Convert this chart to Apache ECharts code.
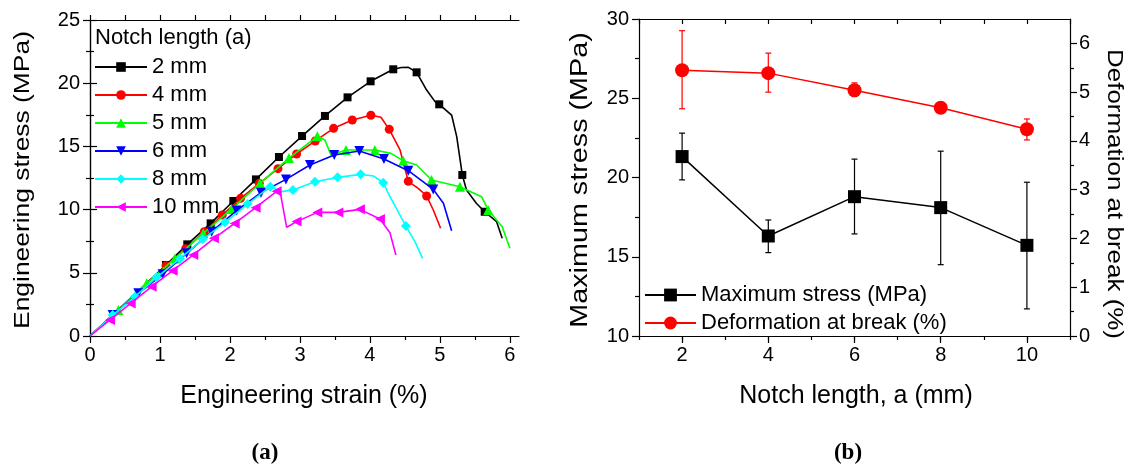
<!DOCTYPE html>
<html><head><meta charset="utf-8">
<script src="https://cdn.jsdelivr.net/npm/echarts@6/dist/echarts.min.js"></script>
<style>html,body{margin:0;padding:0;background:#fff}#c{width:1131px;height:468px}</style>
</head><body><div id="c"></div>
<script>
// ---------- Panel (a): engineering stress-strain curves ----------
// each point: [strain (%), stress (MPa), marker shown (1) or not (0)]
const curve2mm = [[0,0,0],[1.086,5.62,1],[1.39,7.25,1],[1.724,8.91,1],[2.048,10.68,1],[2.371,12.39,1],[2.70,14.16,1],[3.03,15.82,1],[3.357,17.41,1],[3.68,18.88,1],[4.01,20.15,1],[4.333,21.10,1],[4.45,21.24,0],[4.55,21.25,0],[4.667,20.86,1],[4.81,19.46,0],[4.93,18.54,0],[4.99,18.33,1],[5.167,17.48,0],[5.24,15.77,0],[5.32,12.74,1],[5.38,11.55,0],[5.52,10.5,0],[5.64,9.83,1],[5.81,9.04,0],[5.89,7.73,0]];
const curve4mm = [[0,0,0],[1.086,5.56,1],[1.367,6.91,1],[1.633,8.25,1],[1.89,9.57,1],[2.152,10.89,1],[2.419,12.08,1],[2.686,13.24,1],[2.952,14.40,1],[3.219,15.43,1],[3.481,16.43,1],[3.748,17.09,1],[4.014,17.46,1],[4.157,17.30,0],[4.276,16.35,1],[4.43,14.72,0],[4.548,12.24,1],[4.69,11.68,0],[4.81,11.08,1],[4.905,9.97,0],[5.01,8.52,0]];
const curve5mm = [[0,0,0],[0.405,2.06,1],[0.81,4.17,1],[1.214,6.14,1],[1.619,8.12,1],[2.024,10.05,1],[2.429,12.08,1],[2.843,14.08,1],[3.248,15.80,1],[3.357,15.5,0],[3.443,14.32,0],[3.657,14.72,1],[4.07,14.72,1],[4.30,14.45,0],[4.476,13.87,1],[4.667,13.53,0],[4.88,12.34,1],[5.286,11.81,1],[5.595,11.02,0],[5.69,9.97,1],[5.89,8.65,0],[6.0,6.94,0]];
const curve6mm = [[0,0,0],[0.324,1.66,1],[0.69,3.38,1],[1.038,4.88,1],[1.381,6.54,1],[1.738,8.25,1],[2.095,9.92,1],[2.443,11.34,1],[2.8,12.39,1],[3.143,13.53,1],[3.49,14.32,1],[3.848,14.64,1],[4.2,14.0,1],[4.548,13.08,1],[4.905,11.6,1],[5.05,10.5,0],[5.167,8.33,0]];
const curve8mm = [[0,0,0],[0.324,1.66,1],[0.643,3.11,1],[0.952,4.64,1],[1.286,6.12,1],[1.61,7.65,1],[1.929,8.99,1],[2.252,10.44,1],[2.576,11.81,1],[2.738,11.42,0],[2.9,11.55,1],[3.214,12.21,1],[3.538,12.55,1],[3.867,12.79,1],[4.05,12.66,0],[4.19,12.13,1],[4.262,11.29,0],[4.514,8.70,1],[4.643,7.46,0],[4.752,6.14,0]];
const curve10mm = [[0,0,0],[0.286,1.27,1],[0.581,2.58,1],[0.881,3.90,1],[1.181,5.17,1],[1.476,6.41,1],[1.771,7.73,1],[2.067,8.91,1],[2.367,10.15,1],[2.667,11.45,1],[2.714,11.50,0],[2.81,8.60,0],[2.952,9.05,1],[3.248,9.78,1],[3.548,9.78,1],[3.857,10.02,1],[4.143,9.26,1],[4.286,8.17,0],[4.371,6.41,0]];
const curveNames = ['2 mm','4 mm','5 mm','6 mm','8 mm','10 mm'];
const strainTicks = [0,1,2,3,4,5,6];
const strainMinorTicks = [0.5,1.5,2.5,3.5,4.5,5.5];
const strainAllTicks = [0,0.5,1,1.5,2,2.5,3,3.5,4,4.5,5,5.5,6];

// ---------- Panel (b): notch length effects ----------
const notch = [2,4,6,8,10];
const maxStress   = [21.32,16.31,18.79,18.10,15.72];
const maxStressLo = [19.85,15.26,16.44,14.50,11.71];
const maxStressHi = [22.80,17.32,21.16,21.66,19.70];
const deform   = [5.45,5.39,5.04,4.68,4.24];
const deformLo = [4.66,5.00,4.91,4.63,4.02];
const deformHi = [6.26,5.80,5.19,4.73,4.45];
const notchTicks = [2,4,6,8,10];
const deformTicks = [0,1,2,3,4,5,6];
const deformMinorTicks = [0.5,1.5,2.5,3.5,4.5,5.5];

const FONT = 'Liberation Sans, Arial, sans-serif';
const curves = [curve2mm, curve4mm, curve5mm, curve6mm, curve8mm, curve10mm];
const colors = ['#000000','#ff0000','#00ff00','#0000ff','#00ffff','#ff00ff'];
const symbols = ['rect','circle','triangle','triangle','diamond','triangle'];
const symRot = [0,0,0,180,0,90];
const symSize = [8,9,10,10,10,10];

function toData(c){
  return c.map(p => p[2] ? [p[0],p[1]] : {value:[p[0],p[1]], symbol:'none'});
}

const axLine = {show:true, lineStyle:{color:'#000', width:1.2}};
const lbl = {color:'#000', fontSize:20, fontFamily:FONT};

const xAxes = [
  {gridIndex:0, type:'value', min:0, max:6.13, position:'bottom', axisLine:axLine,
   axisTick:{show:true, inside:false, length:7, customValues:strainTicks, lineStyle:{color:'#000',width:1.2}},
   axisLabel:Object.assign({margin:9, customValues:strainTicks}, lbl), splitLine:{show:false}},
  {gridIndex:0, type:'value', min:0, max:6.13, position:'bottom', axisLine:{show:false},
   axisTick:{show:true, length:4, customValues:strainMinorTicks, lineStyle:{color:'#000',width:1.2}},
   axisLabel:{show:false}, splitLine:{show:false}},
  {gridIndex:0, type:'value', min:0, max:6.13, position:'top', axisLine:axLine,
   axisTick:{show:true, length:5, customValues:strainAllTicks, lineStyle:{color:'#000',width:1.2}},
   axisLabel:{show:false}, splitLine:{show:false}},
  {gridIndex:1, type:'value', min:1, max:11, position:'bottom', axisLine:axLine,
   axisTick:{show:true, length:7, customValues:notchTicks, lineStyle:{color:'#000',width:1.2}},
   axisLabel:Object.assign({margin:9, customValues:notchTicks}, lbl), splitLine:{show:false}},
  {gridIndex:1, type:'value', min:1, max:11, interval:1, position:'bottom', axisLine:{show:false},
   axisTick:{show:true, length:4, lineStyle:{color:'#000',width:1.2}},
   axisLabel:{show:false}, splitLine:{show:false}},
  {gridIndex:1, type:'value', min:1, max:11, interval:1, position:'top', axisLine:axLine,
   axisTick:{show:true, inside:true, length:5, lineStyle:{color:'#000',width:1.2}},
   axisLabel:{show:false}, splitLine:{show:false}}
];

const yAxes = [
  {gridIndex:0, type:'value', min:0, max:25, interval:5, position:'left', axisLine:axLine,
   axisTick:{show:true, length:7, lineStyle:{color:'#000',width:1.2}},
   minorTick:{show:true, splitNumber:2, length:4, lineStyle:{color:'#000',width:1.2}},
   axisLabel:Object.assign({margin:10}, lbl), splitLine:{show:false}},
  {gridIndex:0, type:'value', min:0, max:25, interval:5, position:'right', axisLine:axLine,
   axisTick:{show:true, length:7, lineStyle:{color:'#000',width:1.2}},
   minorTick:{show:true, splitNumber:2, length:4, lineStyle:{color:'#000',width:1.2}},
   axisLabel:{show:false}, splitLine:{show:false}},
  {gridIndex:1, type:'value', min:10, max:30, interval:5, position:'left', axisLine:axLine,
   axisTick:{show:true, length:7, lineStyle:{color:'#000',width:1.2}},
   minorTick:{show:true, splitNumber:2, length:4, lineStyle:{color:'#000',width:1.2}},
   axisLabel:Object.assign({margin:10}, lbl), splitLine:{show:false}},
  {gridIndex:1, type:'value', min:0, max:6.5, position:'right', axisLine:axLine,
   axisTick:{show:true, length:7, customValues:deformTicks, lineStyle:{color:'#000',width:1.2}},
   axisLabel:Object.assign({margin:9, customValues:deformTicks}, lbl), splitLine:{show:false}},
  {gridIndex:1, type:'value', min:0, max:6.5, position:'right', axisLine:{show:false},
   axisTick:{show:true, length:4, customValues:deformMinorTicks, lineStyle:{color:'#000',width:1.2}},
   axisLabel:{show:false}, splitLine:{show:false}}
];

const series = curves.map((c,i) => ({
  name: curveNames[i], type:'line', xAxisIndex:0, yAxisIndex:0,
  data: toData(c), symbol: symbols[i], symbolRotate: symRot[i], symbolSize: symSize[i],
  showSymbol:true, showAllSymbol:true, smooth:false, z: 10 + i,
  lineStyle:{color:colors[i], width:1.6}, itemStyle:{color:colors[i]}
}));

function errBar(color){
  return function(params, api){
    const x = api.value(0), lo = api.value(1), hi = api.value(2);
    const a = api.coord([x, hi]), b = api.coord([x, lo]);
    const w = 3;
    const st = {stroke:color, lineWidth:1.2};
    return {type:'group', children:[
      {type:'line', shape:{x1:a[0],y1:a[1],x2:b[0],y2:b[1]}, style:st},
      {type:'line', shape:{x1:a[0]-w,y1:a[1],x2:a[0]+w,y2:a[1]}, style:st},
      {type:'line', shape:{x1:b[0]-w,y1:b[1],x2:b[0]+w,y2:b[1]}, style:st}
    ]};
  };
}

series.push({
  type:'custom', xAxisIndex:3, yAxisIndex:2, z:5,
  renderItem: errBar('#000'), data: notch.map((n,i)=>[n, maxStressLo[i], maxStressHi[i]])
});
series.push({
  type:'custom', xAxisIndex:3, yAxisIndex:3, z:5,
  renderItem: errBar('#ff0000'), data: notch.map((n,i)=>[n, deformLo[i], deformHi[i]])
});
series.push({
  name:'Maximum stress (MPa)', type:'line', xAxisIndex:3, yAxisIndex:2, z:20,
  data: notch.map((n,i)=>[n, maxStress[i]]), symbol:'rect', symbolSize:13,
  lineStyle:{color:'#000', width:1.5}, itemStyle:{color:'#000'}
});
series.push({
  name:'Deformation at break (%)', type:'line', xAxisIndex:3, yAxisIndex:3, z:20,
  data: notch.map((n,i)=>[n, deform[i]]), symbol:'circle', symbolSize:14,
  lineStyle:{color:'#ff0000', width:1.5}, itemStyle:{color:'#ff0000'}
});

const legText = {color:'#000', fontSize:22, fontFamily:FONT, lineHeight:22};

const option = {
  animation:false,
  backgroundColor:'#fff',
  grid:[
    {left:90, top:20, width:429, height:316},
    {left:639, top:19, width:431, height:317}
  ],
  xAxis:xAxes, yAxis:yAxes,
  legend:[
    {data:curveNames, orient:'vertical', left:94, top:56, padding:0, itemWidth:52, itemHeight:12, itemGap:6,
     textStyle:legText, selectedMode:false},
    {data:['Maximum stress (MPa)','Deformation at break (%)'], orient:'vertical', left:644, top:284, padding:0,
     itemWidth:51, itemHeight:16, itemGap:6, textStyle:legText, selectedMode:false}
  ],
  graphic:[
    {type:'text', x:95, y:38, style:{text:'Notch length (a)', font:'22px '+FONT, fill:'#000', align:'left', verticalAlign:'middle'}},
    {type:'text', x:304, y:396, style:{text:'Engineering strain (%)', font:'25px '+FONT, fill:'#000', align:'center', verticalAlign:'middle'}},
    {type:'text', x:23, y:180, rotation:Math.PI/2, scaleX:1.2, style:{text:'Engineering stress (MPa)', font:'22px '+FONT, fill:'#000', align:'center', verticalAlign:'middle'}},
    {type:'text', x:856, y:396, style:{text:'Notch length, a (mm)', font:'25px '+FONT, fill:'#000', align:'center', verticalAlign:'middle'}},
    {type:'text', x:581, y:180, rotation:Math.PI/2, scaleX:1.25, style:{text:'Maximum stress (MPa)', font:'23px '+FONT, fill:'#000', align:'center', verticalAlign:'middle'}},
    {type:'text', x:1114, y:194, rotation:-Math.PI/2, scaleX:1.18, style:{text:'Deformation at break (%)', font:'22px '+FONT, fill:'#000', align:'center', verticalAlign:'middle'}},
    {type:'text', x:265, y:453, style:{text:'(a)', font:'bold 23px Liberation Serif, serif', fill:'#000', align:'center', verticalAlign:'middle'}},
    {type:'text', x:848, y:453, style:{text:'(b)', font:'bold 23px Liberation Serif, serif', fill:'#000', align:'center', verticalAlign:'middle'}}
  ],
  series:series
};

const chart = echarts.init(document.getElementById('c'), null, {renderer:'canvas'});
chart.setOption(option);
</script>
</body></html>
